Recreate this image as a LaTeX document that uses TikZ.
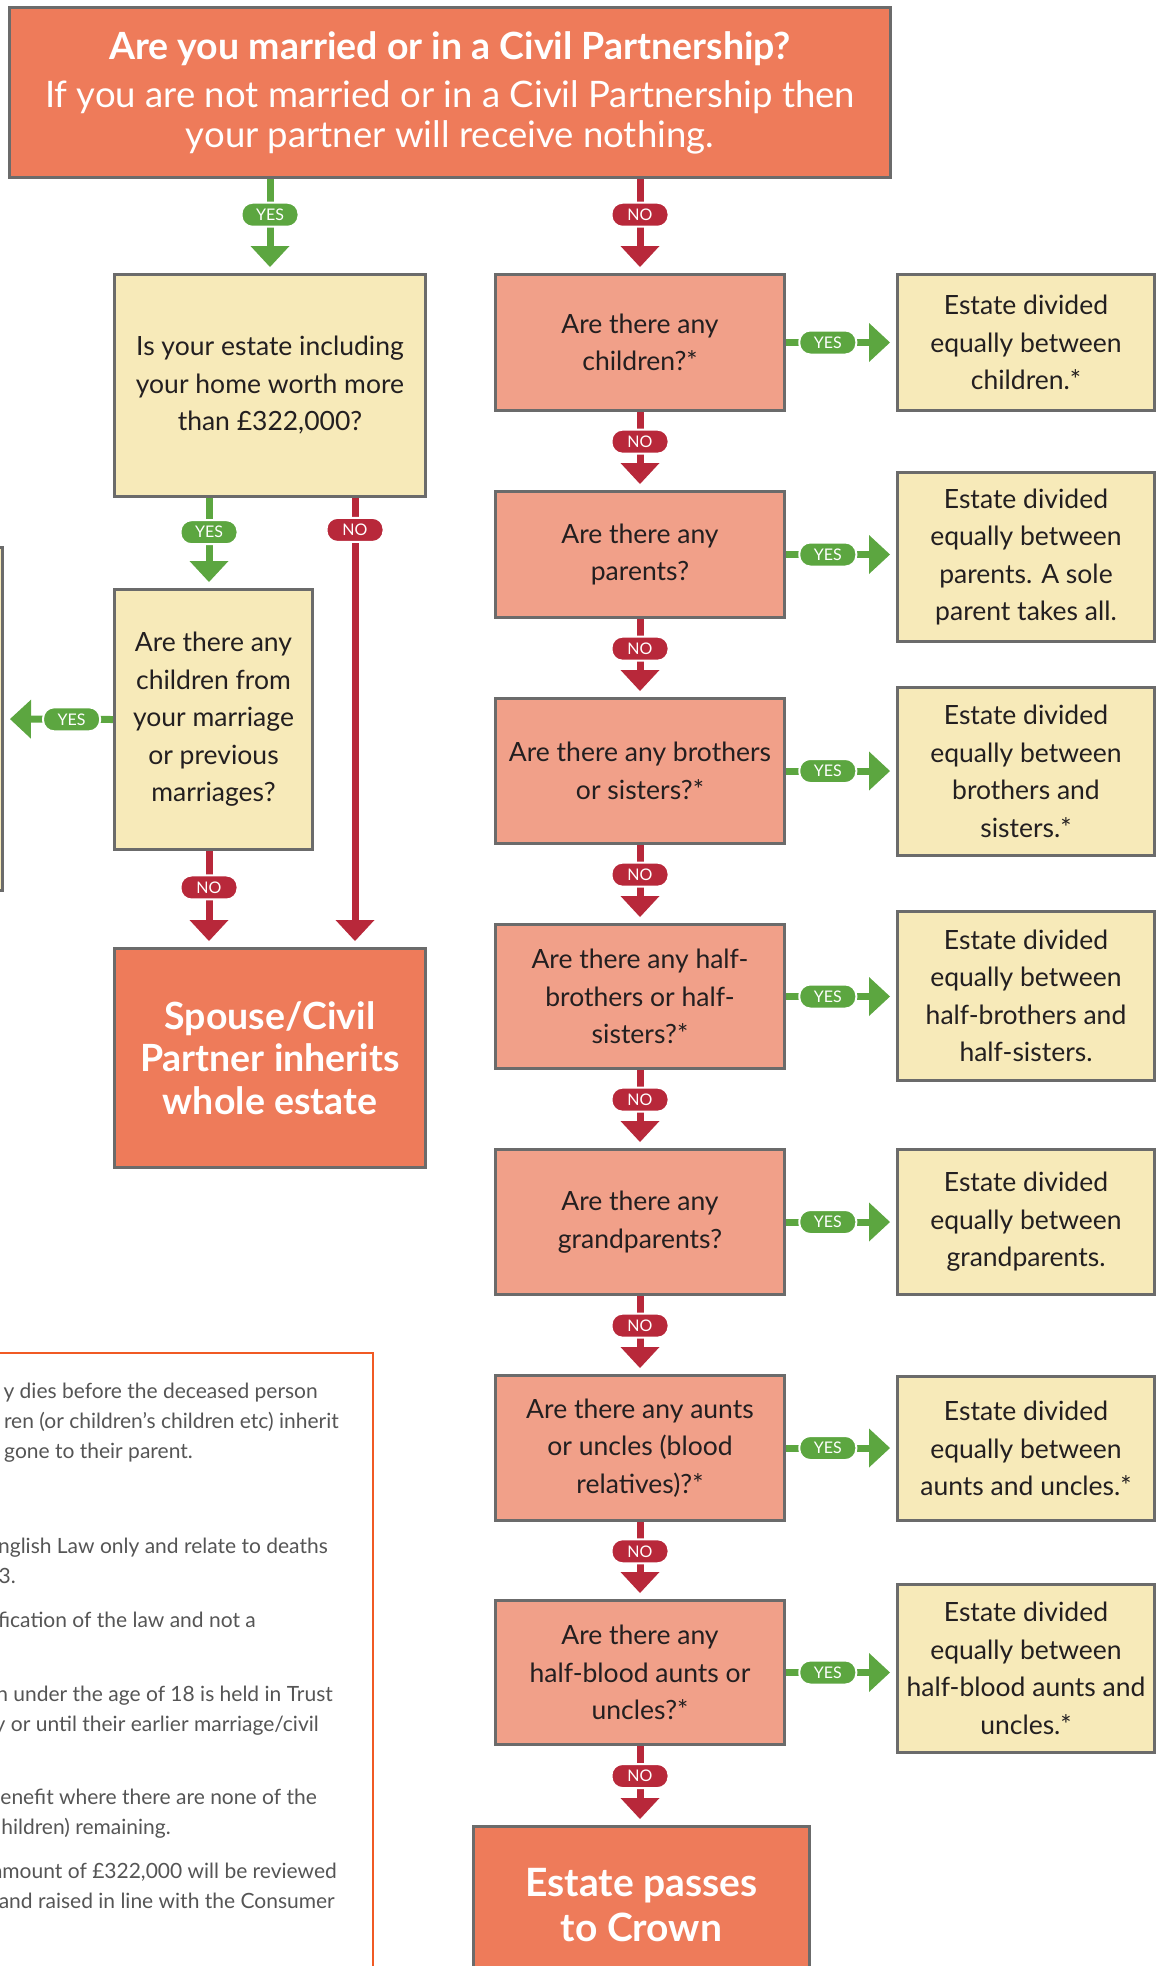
\documentclass[tikz,border=0pt]{standalone}
\usepackage{fontspec}
\setmainfont{Lato}
\usepackage{tikz}
\usetikzlibrary{arrows.meta,positioning}
\definecolor{coral}{HTML}{EE7B5A}
\definecolor{salmon}{HTML}{F1A089}
\definecolor{cream}{HTML}{F7EAB9}
\definecolor{boxgray}{HTML}{6B6B6B}
\definecolor{yesgreen}{HTML}{5CA640}
\definecolor{nored}{HTML}{B8283A}
\definecolor{noteline}{HTML}{F15A24}
\definecolor{notegray}{HTML}{555555}
\definecolor{textdark}{HTML}{231F20}

\tikzset{
  box/.style={draw=boxgray, line width=3pt, inner sep=0pt, align=center, text=textdark, font=\fontsize{26.5}{37.5}\selectfont},
  qbox/.style={box, fill=salmon, minimum width=289pt},
  rbox/.style={box, fill=cream, minimum width=257pt},
  endbox/.style={box, fill=coral, text=white, font=\fontsize{37.5}{42.5}\selectfont\bfseries},
  yesline/.style={draw=yesgreen, line width=7pt, -{Triangle[length=21pt,width=39pt,line width=0pt]}, shorten >=6pt},
  noline/.style={yesline, draw=nored},
  tag/.style={pos=0.38, draw=white, line width=2pt, rounded corners=11pt, minimum width=57pt, minimum height=24pt, inner sep=0pt, text=white, font=\fontsize{16}{16}\selectfont},
  yestag/.style={tag, fill=yesgreen},
  notag/.style={tag, fill=nored}
}

\begin{document}
\begin{tikzpicture}[x=1pt,y=-1pt]
  \useasboundingbox (0,0) rectangle (1162,1966);
  \clip (0,0) rectangle (1162,1966);

  % left branch
  \node[box, fill=coral, text=white, minimum width=881pt, minimum height=170pt, font=\fontsize{36.5}{40}\selectfont] (married) at (450,92.5)
    {{\fontsize{37.5}{40}\selectfont\bfseries Are you married or in a Civil Partnership?}\\[8pt]
     If you are not married or in a Civil Partnership then\\ your partner will receive nothing.};
  \node[box, fill=cream, minimum width=311pt, minimum height=222pt] (estate) at (270,385.5)
    {Is your estate including\\ your home worth more\\ than £322,000?};
  \node[box, fill=cream, minimum width=198pt, minimum height=260pt] (marriage) at (213.5,719.5)
    {Are there any\\ children from\\ your marriage\\ or previous\\ marriages?};
  \node[box, fill=cream, minimum width=41pt, minimum height=343pt] (offbox) at (-18,719) {};
  \node[endbox, minimum width=311pt, minimum height=219pt] (spouse) at (270,1058)
    {Spouse/Civil\\ Partner inherits\\ whole estate};

  % right branch
  \node[qbox, minimum height=136pt] (q1) at (640,342.5) {Are there any\\ children?*};
  \node[qbox, minimum height=126pt] (q2) at (640,554.5) {Are there any\\ parents?};
  \node[qbox, minimum height=145pt] (q3) at (640,771) {Are there any brothers\\ or sisters?*};
  \node[qbox, minimum height=144pt] (q4) at (640,996.5) {Are there any half-\\ brothers or half-\\ sisters?*};
  \node[qbox, minimum height=145pt] (q5) at (640,1222) {Are there any\\ grandparents?};
  \node[qbox, minimum height=145pt] (q6) at (640,1448) {Are there any aunts\\ or uncles (blood\\ relatives)?*};
  \node[qbox, minimum height=144pt] (q7) at (640,1672.5) {Are there any\\ half-blood aunts or\\ uncles?*};
  \node[endbox, minimum width=336pt, minimum height=157pt, font=\fontsize{39}{45}\selectfont\bfseries] (crown) at (641.5,1905) {Estate passes\\ to Crown};

  \node[rbox, minimum height=136pt] (r1) at (1026,342.5) {Estate divided\\ equally between\\ children.*};
  \node[rbox, minimum height=169pt] (r2) at (1026,557) {Estate divided\\ equally between\\ parents. A sole\\ parent takes all.};
  \node[rbox, minimum height=168pt] (r3) at (1026,771.5) {Estate divided\\ equally between\\ brothers and\\ sisters.*};
  \node[rbox, minimum height=169pt] (r4) at (1026,996) {Estate divided\\ equally between\\ half-brothers and\\ half-sisters.};
  \node[rbox, minimum height=145pt] (r5) at (1026,1222) {Estate divided\\ equally between\\ grandparents.};
  \node[rbox, minimum height=144pt] (r6) at (1026,1448.5) {Estate divided\\ equally between\\ aunts and uncles.*};
  \node[rbox, minimum height=168pt] (r7) at (1026,1668.5) {Estate divided\\ equally between\\ half-blood aunts and\\ uncles.*};

  % connectors
  \draw[yesline] (married.south -| estate.north) -- (estate.north) node[yestag] (t0) {YES};
  \draw[noline] (married.south -| q1.north) -- (q1.north) node[notag] (n0) {NO};
  \draw[yesline] ([xshift=96pt]estate.south west) -- ([xshift=96pt]marriage.north west) node[yestag] (te) {YES};
  \draw[noline] ([xshift=-72pt]estate.south east) -- ([xshift=-72pt]spouse.north east) node[notag, pos=0.071] (ne) {NO};
  \draw[yesline] (marriage.west) -- (offbox.east) node[yestag] (tm) {YES};
  \draw[noline] ([xshift=96pt]marriage.south west) -- ([xshift=96pt]spouse.north west) node[notag] (nm) {NO};
  \foreach \i/\j in {1/2,2/3,3/4,4/5,5/6,6/7}
    \draw[noline] (q\i.south) -- (q\j.north) node[notag] (n\i) {NO};
  \draw[noline] (q7.south) -- (q7.south |- crown.north) node[notag] (n7) {NO};
  \foreach \i in {1,...,7}
    \draw[yesline] (q\i.east) -- (q\i.east -| r\i.west) node[yestag] (t\i) {YES};

  % notes (cut at the left edge)
  \draw[noteline, line width=2pt, fill=white] (-10,1353) rectangle (373,2010);
  \foreach \y/\x/\t [count=\k] in {
      1398/318/{y dies before the deceased person},
      1428/339/{ren (or children’s children etc) inherit},
      1458/193/{gone to their parent.},
      1553/328/{nglish Law only and relate to deaths},
      1583/16/{3.},
      1627/256/{fication of the law and not a},
      1701/333/{n under the age of 18 is held in Trust},
      1731/319/{y or until their earlier marriage/civil},
      1804/317/{benefit where there are none of the},
      1834/171/{hildren) remaining.},
      1878/337/{amount of £322,000 will be reviewed},
      1908/335/{and raised in line with the Consumer}}
    \node[anchor=base east, inner sep=0pt, text=notegray, font=\fontsize{21}{30}\selectfont] (note\k) at (\x,\y) {\t};
\end{tikzpicture}
\end{document}
